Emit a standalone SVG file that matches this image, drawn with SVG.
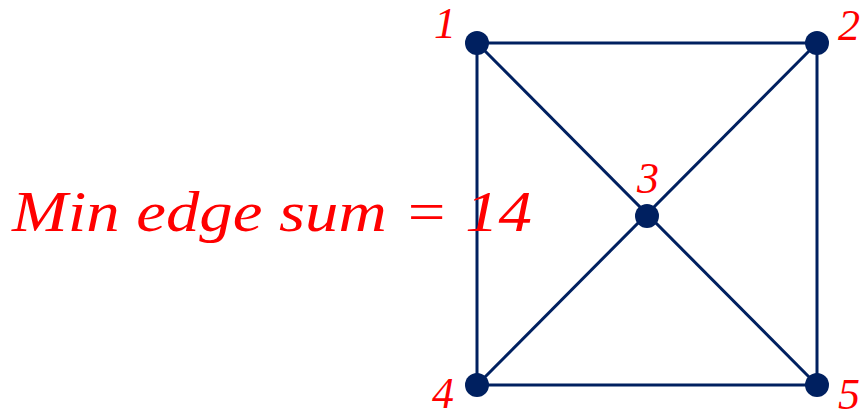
<svg xmlns="http://www.w3.org/2000/svg" width="865" height="420" viewBox="0 0 865 420">
<style>
.e{stroke:#002060;stroke-width:3;fill:none}
.n{fill:#002060}
.t{fill:#ff0000;font-family:"Liberation Serif","DejaVu Serif",serif;font-style:italic}
.d{font-size:44px}
</style>
<rect width="865" height="420" fill="#fff"/>
<g id="edges">
<line class="e" x1="477" y1="43" x2="817" y2="43"/>
<line class="e" x1="477" y1="43" x2="477" y2="385"/>
<line class="e" x1="817" y1="43" x2="817" y2="385"/>
<line class="e" x1="477" y1="385" x2="817" y2="385"/>
<line class="e" x1="477" y1="43" x2="817" y2="385"/>
<line class="e" x1="817" y1="43" x2="477" y2="385"/>
</g>
<g id="node1"><circle class="n" cx="477" cy="43" r="12"/><text class="t d" x="434" y="38">1</text></g>
<g id="node2"><circle class="n" cx="817" cy="43" r="12"/><text class="t d" x="838" y="40">2</text></g>
<g id="node3"><circle class="n" cx="647" cy="216" r="12"/><text class="t d" x="637" y="193">3</text></g>
<g id="node4"><circle class="n" cx="477" cy="385" r="12"/><text class="t d" x="432" y="408">4</text></g>
<g id="node5"><circle class="n" cx="817" cy="385" r="12"/><text class="t d" x="838" y="409">5</text></g>
<g id="label"><text class="t" x="12" y="231" font-size="56" textLength="520" lengthAdjust="spacingAndGlyphs">Min edge sum = 14</text></g>
</svg>
